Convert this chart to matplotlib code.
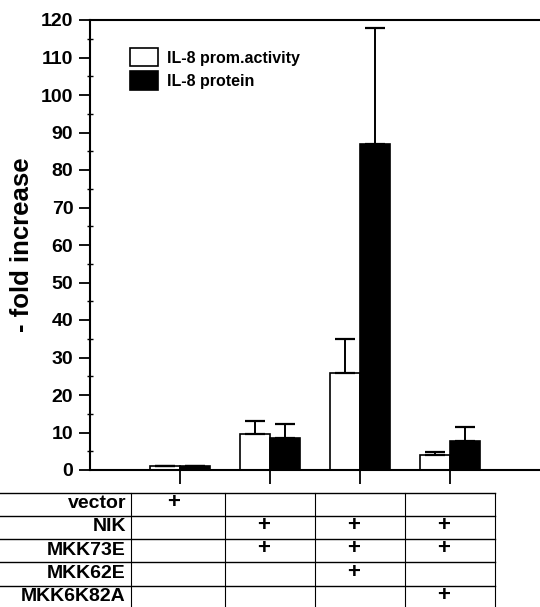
import matplotlib
matplotlib.use("Agg")
import matplotlib.pyplot as plt
import numpy as np

plt.rcParams['font.family'] = ['Liberation Sans', 'DejaVu Sans']
plt.rcParams['font.weight'] = 'bold'

# data
groups = [0, 1, 2, 3]
prom = [1.0, 9.5, 26.0, 3.9]
prom_err = [0.0, 3.6, 9.0, 1.0]
protein = [1.0, 8.6, 87.0, 7.8]
protein_err = [0.0, 3.8, 31.0, 3.8]

row_labels = ['vector', 'NIK', 'MKK73E', 'MKK62E', 'MKK6K82A']
plus = [
    [1, 0, 0, 0],
    [0, 1, 1, 1],
    [0, 1, 1, 1],
    [0, 0, 1, 0],
    [0, 0, 0, 1],
]

fig = plt.figure(figsize=(5.4, 6.07), dpi=100)
ax = fig.add_axes([90 / 540, 137 / 607, 450 / 540, 450 / 607])

x = np.array(groups)
w = 0.33
ax.bar(x - w / 2, prom, w, color='white', edgecolor='black', linewidth=1.2,
       label='IL-8 prom.activity')
ax.bar(x + w / 2, protein, w, color='black', edgecolor='black', linewidth=1.2,
       label='IL-8 protein')
ax.errorbar(x - w / 2, prom, yerr=[np.zeros(4), prom_err], fmt='none',
            ecolor='black', elinewidth=1.4, capsize=7, capthick=1.6)
ax.errorbar(x + w / 2, protein, yerr=[np.zeros(4), protein_err], fmt='none',
            ecolor='black', elinewidth=1.4, capsize=7, capthick=1.6)

ax.set_xlim(-1, 4)
ax.set_ylim(0, 120)
ax.set_yticks(np.arange(0, 121, 10))
ax.set_yticks(np.arange(5, 120, 10), minor=True)
ax.set_xticks(x)
ax.set_xticklabels([])
ax.tick_params(axis='y', which='major', direction='out', length=8, width=1.3,
               labelsize=14, pad=4)
ax.tick_params(axis='y', which='minor', direction='inout', length=4, width=1)
ax.tick_params(axis='x', direction='out', length=10, width=1.3)
for lab in ax.get_yticklabels():
    lab.set_fontweight('bold')
ax.spines['right'].set_visible(False)
for s in ['left', 'bottom', 'top']:
    ax.spines[s].set_linewidth(1.5)
ax.set_ylabel('- fold increase', fontsize=18.5, fontweight='bold', labelpad=5)

leg = ax.legend(loc='upper left', bbox_to_anchor=(40 / 450, 422 / 450),
                frameon=False, fontsize=11.5, handlelength=1.75,
                handleheight=1.4, labelspacing=0.3, handletextpad=0.55,
                borderpad=0, borderaxespad=0)
for t in leg.get_texts():
    t.set_fontweight('bold')

# table of constructs below the chart
tax = fig.add_axes([0, 0, 1, 122 / 607])
tax.set_xlim(-2, 4)
tax.set_ylim(4.92, -0.33)
tax.axis('off')
col_edges = [-0.55, 0.5, 1.5, 2.5, 3.5]
for i in range(len(row_labels) + 1):
    tax.plot([-2, 3.5], [i, i], color='black', lw=1.0)
for c in col_edges:
    tax.plot([c, c], [0, len(row_labels)], color='black', lw=0.8)
for i, name in enumerate(row_labels):
    tax.text(-0.6, i + 0.47, name, ha='right', va='center', fontsize=14,
             fontweight='bold')
    for j, p in enumerate(plus[i]):
        if p:
            tax.text(groups[j] - 0.07, i + 0.42, '+', ha='center', va='center',
                     fontsize=16, fontweight='bold')

fig.savefig('out.png', dpi=100)
